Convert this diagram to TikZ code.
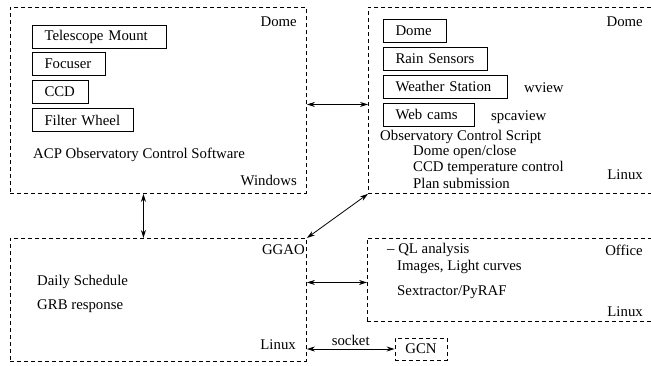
\documentclass[tikz,border=0pt]{standalone}
\usepackage{fontspec}
\setmainfont{Liberation Serif}
\usetikzlibrary{arrows.meta}
\begin{document}
\begin{tikzpicture}[x=1pt,y=-1pt,
  every node/.style={font=\fontsize{14.8}{17}\selectfont, inner sep=0pt},
  region/.style={draw, dash pattern=on 4pt off 3pt, line width=0.9pt, anchor=north west},
  dev/.style={draw, line width=1pt, anchor=west, inner xsep=12pt, align=left, minimum height=23pt},
  lbl/.style={anchor=east},
  txt/.style={anchor=west},
  link/.style={{Stealth[length=8pt,width=5pt,inset=2.5pt]}-{Stealth[length=8pt,width=5pt,inset=2.5pt]}, line width=0.8pt}]
\useasboundingbox (0,0) rectangle (651,365);

% regions
\node[region, minimum width=296pt, minimum height=186pt] (acp) at (10,7) {};
\node[region, minimum width=290pt, minimum height=186pt] (obs) at (368,7) {};
\node[region, minimum width=296pt, minimum height=123pt] (ggao) at (10,238) {};
\node[region, minimum width=290pt, minimum height=83pt] (ql) at (367,238) {};
\node[region, minimum width=52pt, minimum height=22pt, anchor=center] (gcn) at (421,349) {GCN};

% ACP devices
\node[dev, text width=110pt] (mount) at (32,36.5) {Telescope Mount};
\node[dev, text width=49pt] (focus) at (32,64) {Focuser};
\node[dev, text width=32pt] (ccd) at (32,92) {CCD};
\node[dev, text width=77pt] (filter) at (32,120) {Filter Wheel};
\node[txt] (acptxt) at (33,155) {ACP Observatory Control Software};
\node[lbl] (acpdome) at (297,22) {Dome};
\node[lbl] (acpwin) at (297,180) {Windows};

% Observatory devices
\node[dev, text width=39pt] (dome) at (383,31) {Dome};
\node[dev, text width=80pt] (rain) at (383,59) {\mbox{Rain Sensors}};
\node[dev, text width=100pt] (weather) at (383,86.5) {\mbox{Weather Station}};
\node[dev, text width=67pt] (cams) at (383,114.5) {\mbox{Web cams}};
\node[txt] (wview) at (524,88) {wview};
\node[txt] (spca) at (491,117) {spcaview};
\node[txt] (ocs) at (380,137) {Observatory Control Script};
\node[txt] (t1) at (413,152) {Dome open/close};
\node[txt] (t2) at (413,168) {CCD temperature control};
\node[txt] (t3) at (413,183) {Plan submission};
\node[lbl] (obsdome) at (643,22) {Dome};
\node[lbl] (obslinux) at (643,175) {Linux};

% GGAO
\node[lbl] (ggaolbl) at (305,250) {GGAO};
\node[txt] (daily) at (37,282) {Daily Schedule};
\node[txt] (grb) at (37,306) {GRB response};
\node[lbl] (ggaolinux) at (296,345) {Linux};

% Office
\node[txt] (qltxt) at (387,250) {\textendash\ QL analysis};
\node[txt] (imgs) at (397,267) {Images, Light curves};
\node[txt] (sex) at (397,292) {Sextractor/PyRAF};
\node[lbl] (office) at (643,250) {Office};
\node[lbl] (qllinux) at (643,312) {Linux};

% links
\draw[link] ([yshift=-4pt]acp.east) -- ([yshift=-4pt]acp.east -| obs.west);
\draw[link] ([xshift=-15pt]acp.south) -- ([xshift=-15pt]ggao.north);
\draw[link] (ggao.north east) -- (obs.south west);
\draw[link] ([yshift=17.5pt]ggao.east) -- ([yshift=17.5pt]ggao.east -| ql.west);
\draw[link] (ggao.east |- gcn.west) -- node[above=3pt] (sock) {socket} (gcn.west);
\end{tikzpicture}
\end{document}
